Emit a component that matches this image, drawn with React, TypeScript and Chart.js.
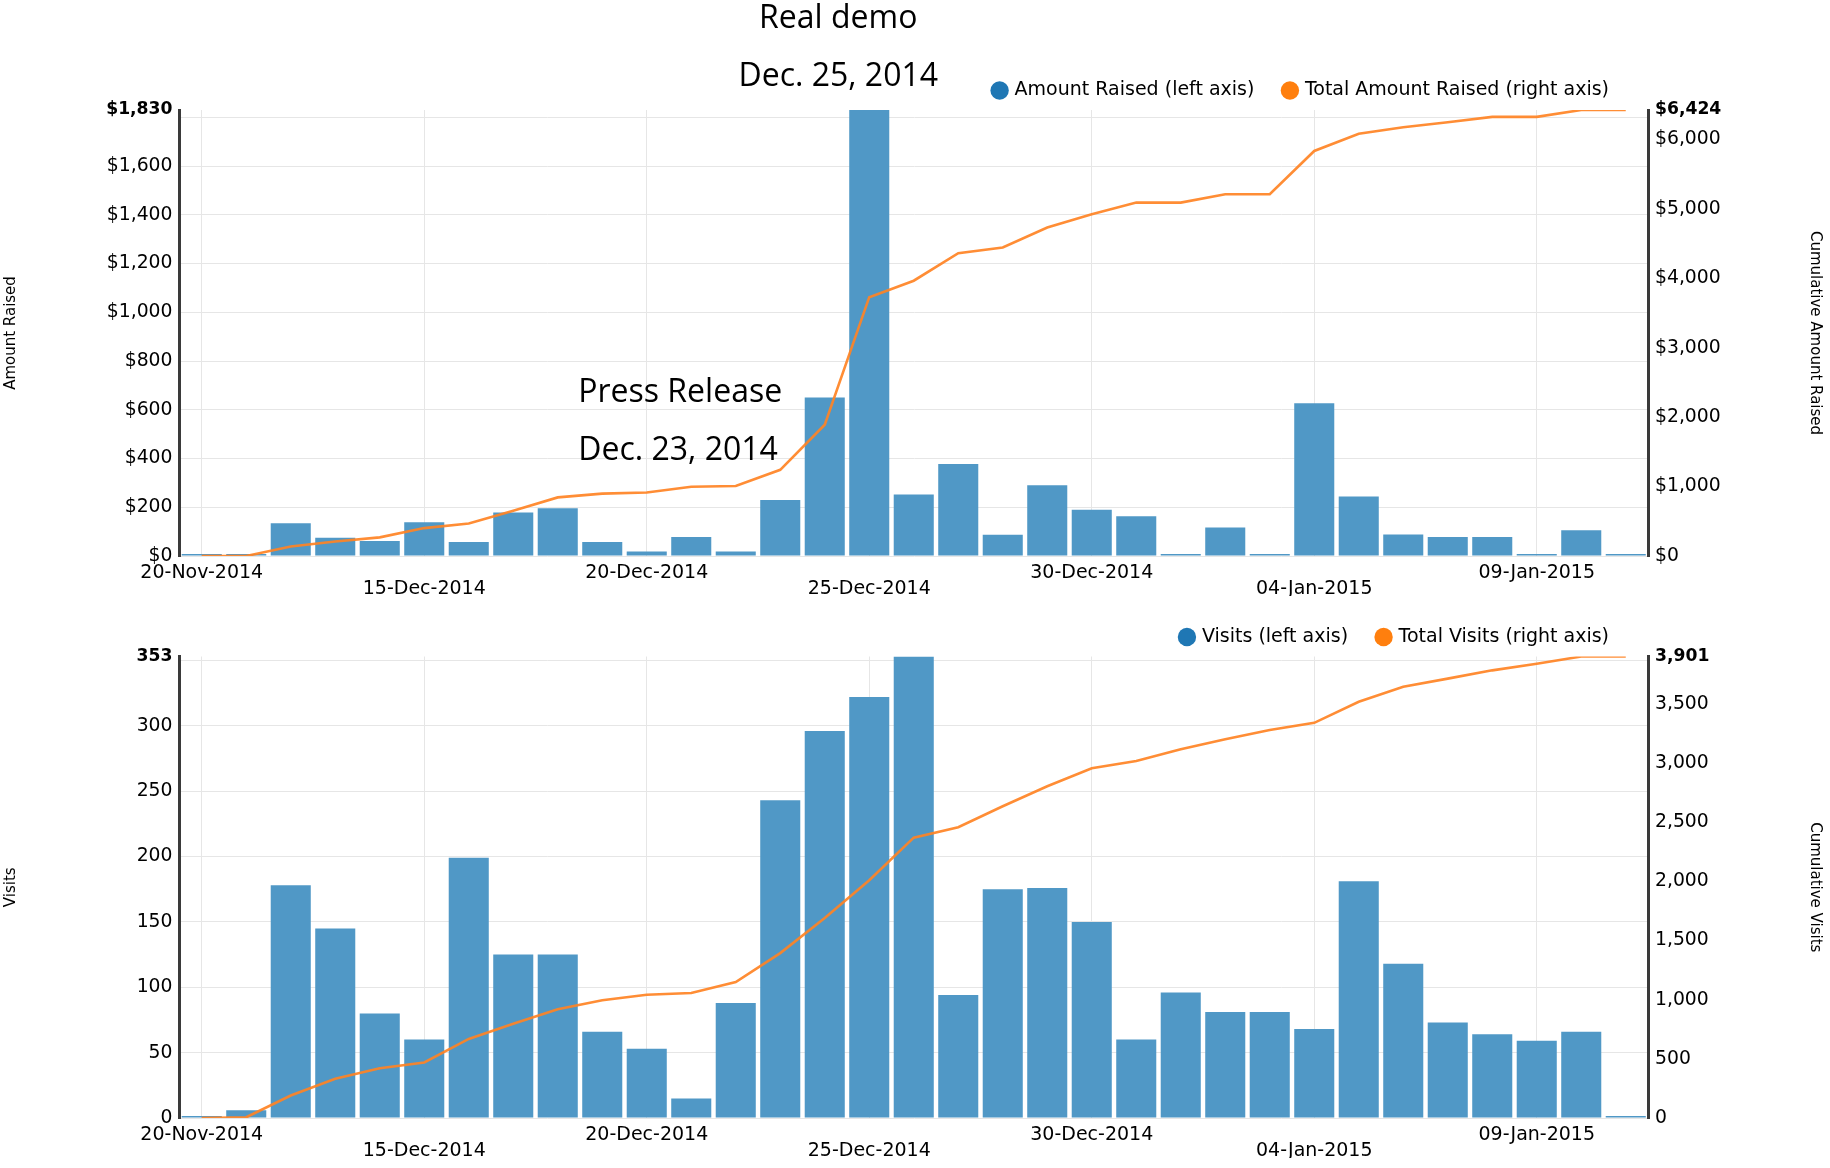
import React, { useEffect, useRef } from 'react';
import { Chart, registerables } from 'chart.js';

Chart.register(...registerables);

// ---------- data ----------
const dates = [
  '20-Nov-2014', '11-Dec-2014', '12-Dec-2014', '13-Dec-2014', '14-Dec-2014',
  '15-Dec-2014', '16-Dec-2014', '17-Dec-2014', '18-Dec-2014', '19-Dec-2014',
  '20-Dec-2014', '21-Dec-2014', '22-Dec-2014', '23-Dec-2014', '24-Dec-2014',
  '25-Dec-2014', '26-Dec-2014', '27-Dec-2014', '28-Dec-2014', '29-Dec-2014',
  '30-Dec-2014', '31-Dec-2014', '01-Jan-2015', '02-Jan-2015', '03-Jan-2015',
  '04-Jan-2015', '05-Jan-2015', '06-Jan-2015', '07-Jan-2015', '08-Jan-2015',
  '09-Jan-2015', '10-Jan-2015', '11-Jan-2015',
];

const amountRaised = [
  0, 0, 134, 75, 62, 138, 57, 178, 196, 57, 18, 78, 18, 230, 650, 1830, 252,
  377, 87, 290, 190, 163, 0, 117, 0, 627, 244, 88, 78, 78, 0, 106, 0,
];
const totalAmountRaised = [
  0, 0, 138, 210, 268, 402, 469, 651, 844, 899, 915, 998, 1009, 1241, 1891,
  3728, 3965, 4362, 4444, 4731, 4924, 5090, 5090, 5211, 5211, 5834, 6082,
  6176, 6247, 6325, 6325, 6424, 6424,
];

const visits = [
  0, 6, 178, 145, 80, 60, 199, 125, 125, 66, 53, 15, 88, 243, 296, 322, 353,
  94, 175, 176, 150, 60, 96, 81, 81, 68, 181, 118, 73, 64, 59, 66, 0,
];
const totalVisits = [
  0, 6, 190, 331, 420, 469, 668, 797, 919, 996, 1042, 1057, 1149, 1394, 1690,
  2010, 2370, 2458, 2635, 2804, 2957, 3018, 3117, 3202, 3279, 3340, 3518,
  3646, 3714, 3784, 3840, 3901, 3901,
];

const amountTicks = [0, 200, 400, 600, 800, 1000, 1200, 1400, 1600, 1800, 1830];
const totalAmountTicks = [0, 1000, 2000, 3000, 4000, 5000, 6000, 6424];
const visitsTicks = [0, 50, 100, 150, 200, 250, 300, 350, 353];
const totalVisitsTicks = [0, 500, 1000, 1500, 2000, 2500, 3000, 3500, 3901];

// ---------- styles ----------
const FONT = '"DejaVu Sans", sans-serif';
const GRID = '#e6e6e6';
const NONE = 'rgba(0,0,0,0)';
const BAR_FILL = 'rgb(80,152,198)';
const LINE_COLOR = 'rgba(255,131,36,0.92)';
const LEGEND_COLORS = ['#1f77b4', '#ff7f0e'];
const LEGEND_END = 1609;

const legendShift = {
  id: 'legendShift',
  afterLayout(chart: any) {
    const l = chart.legend;
    if (!l) return;
    const pad = l.options.labels.padding;
    const shift = LEGEND_END + pad - l.right;
    l.left += shift;
    l.right += shift;
  },
};

const annotations = {
  id: 'annotations',
  afterDraw(chart: any) {
    const x = chart.scales.x;
    const ctx = chart.ctx;
    ctx.save();
    ctx.fillStyle = '#000';
    ctx.font = '32px "Open Sans", sans-serif';
    ctx.textBaseline = 'alphabetic';
    ctx.textAlign = 'center';
    const demoX = x.getPixelForValue(15) - 31;
    ctx.fillText('Real demo', demoX, 28);
    ctx.fillText('Dec. 25, 2014', demoX, 86);
    ctx.textAlign = 'left';
    const prX = x.getPixelForValue(13) - 202;
    ctx.fillText('Press Release', prX, 402);
    ctx.fillText('Dec. 23, 2014', prX, 460);
    ctx.restore();
  },
};

type Opts = {
  bars: number[];
  line: number[];
  barLabel: string;
  lineLabel: string;
  leftTicks: number[];
  rightTicks: number[];
  leftHidden: number;
  leftTitle: string;
  rightTitle: string;
  money: boolean;
  padTop: number;
  padBottom: number;
  plugins: any[];
};

function buildConfig(o: Opts): any {
  const leftMax = o.leftTicks[o.leftTicks.length - 1];
  const rightMax = o.rightTicks[o.rightTicks.length - 1];
  const fmt = (v: number) => (o.money ? '$' : '') + Number(v).toLocaleString('en-US');
  const tickFont = (max: number) => (ctx: any) =>
    ctx.tick && ctx.tick.value === max
      ? { family: FONT, size: 17.2, weight: 'bold' }
      : { family: FONT, size: 18.8, weight: 'normal' };

  return {
    type: 'bar',
    data: {
      labels: dates,
      datasets: [
        {
          type: 'bar',
          label: o.barLabel,
          data: o.bars,
          yAxisID: 'y',
          backgroundColor: BAR_FILL,
          borderWidth: 0,
          barPercentage: 0.9,
          categoryPercentage: 1.0,
          minBarLength: 2,
          order: 1,
        },
        {
          type: 'line',
          label: o.lineLabel,
          data: o.line,
          yAxisID: 'y1',
          borderColor: LINE_COLOR,
          backgroundColor: LINE_COLOR,
          borderWidth: 2.6,
          pointRadius: 0,
          tension: 0,
          order: 0,
        },
      ],
    },
    options: {
      responsive: false,
      animation: false,
      events: [],
      layout: { padding: { top: o.padTop, bottom: o.padBottom, left: 0, right: 0 } },
      plugins: {
        tooltip: { enabled: false },
        legend: {
          display: true,
          position: 'top',
          align: 'end',
          labels: {
            usePointStyle: true,
            pointStyle: 'circle',
            boxWidth: 11,
            boxHeight: 13,
            padding: 30,
            color: '#000',
            font: { family: FONT, size: 19 },
            sort: (a: any, b: any) => a.datasetIndex - b.datasetIndex,
            generateLabels: (chart: any) =>
              (Chart.defaults.plugins.legend.labels as any)
                .generateLabels(chart)
                .map((l: any) => ({
                  ...l,
                  fillStyle: LEGEND_COLORS[l.datasetIndex],
                  strokeStyle: LEGEND_COLORS[l.datasetIndex],
                  lineWidth: 0,
                })),
          },
        },
      },
      scales: {
        x: {
          type: 'category',
          offset: true,
          border: { display: false },
          grid: {
            offset: false,
            drawTicks: false,
            lineWidth: 1,
            color: (ctx: any) => (ctx.index % 5 === 0 ? GRID : NONE),
          },
          ticks: {
            autoSkip: false,
            maxRotation: 0,
            minRotation: 0,
            padding: 8.75,
            color: '#000',
            font: { family: FONT, size: 19, lineHeight: 0.87 },
            callback: (_v: any, i: number) =>
              i % 5 === 0 ? ((i / 5) % 2 === 0 ? dates[i] : ['', dates[i]]) : '',
          },
          afterFit: (s: any) => {
            s.height = 40;
          },
        },
        y: {
          type: 'linear',
          position: 'left',
          min: 0,
          max: leftMax,
          afterBuildTicks: (s: any) => {
            s.ticks = o.leftTicks.map((v) => ({ value: v }));
          },
          border: { display: true, color: '#3a3a3a', width: 3 },
          grid: {
            drawTicks: false,
            lineWidth: 1,
            color: (ctx: any) => (ctx.tick && ctx.tick.value === leftMax ? NONE : GRID),
          },
          ticks: {
            padding: 7,
            color: '#000',
            font: tickFont(leftMax),
            callback: (v: any) => (v === o.leftHidden ? '' : fmt(v)),
          },
          title: {
            display: true,
            text: o.leftTitle,
            color: '#000',
            font: { family: FONT, size: 15 },
            padding: { top: 2.6, bottom: 0 },
          },
          afterFit: (s: any) => {
            s.width = 179.5;
          },
        },
        y1: {
          type: 'linear',
          position: 'right',
          min: 0,
          max: rightMax,
          afterBuildTicks: (s: any) => {
            s.ticks = o.rightTicks.map((v) => ({ value: v }));
          },
          border: { display: true, color: '#3a3a3a', width: 3 },
          grid: { drawOnChartArea: false, drawTicks: false },
          ticks: {
            padding: 7,
            color: '#000',
            font: tickFont(rightMax),
            callback: (v: any) => fmt(v),
          },
          title: {
            display: true,
            text: o.rightTitle,
            color: '#000',
            font: { family: FONT, size: 15 },
            padding: { top: 6, bottom: 0 },
          },
          afterFit: (s: any) => {
            s.width = 182;
          },
        },
      },
    },
    plugins: o.plugins,
  };
}

export default function App() {
  const topRef = useRef<HTMLCanvasElement>(null);
  const botRef = useRef<HTMLCanvasElement>(null);

  useEffect(() => {
    const c1 = new Chart(
      topRef.current as HTMLCanvasElement,
      buildConfig({
        bars: amountRaised,
        line: totalAmountRaised,
        barLabel: 'Amount Raised (left axis)',
        lineLabel: 'Total Amount Raised (right axis)',
        leftTicks: amountTicks,
        rightTicks: totalAmountTicks,
        leftHidden: 1800,
        leftTitle: 'Amount Raised',
        rightTitle: 'Cumulative Amount Raised',
        money: true,
        padTop: 51,
        padBottom: 14,
        plugins: [legendShift, annotations],
      })
    );
    const c2 = new Chart(
      botRef.current as HTMLCanvasElement,
      buildConfig({
        bars: visits,
        line: totalVisits,
        barLabel: 'Visits (left axis)',
        lineLabel: 'Total Visits (right axis)',
        leftTicks: visitsTicks,
        rightTicks: totalVisitsTicks,
        leftHidden: 350,
        leftTitle: 'Visits',
        rightTitle: 'Cumulative Visits',
        money: false,
        padTop: 1.5,
        padBottom: 10,
        plugins: [legendShift],
      })
    );
    return () => {
      c1.destroy();
      c2.destroy();
    };
  }, []);

  return (
    <div style={{ position: 'absolute', left: 0, top: 0, width: 1830, height: 1168, background: '#fff' }}>
      <canvas ref={topRef} width={1830} height={610} style={{ position: 'absolute', left: 0, top: 0 }} />
      <canvas ref={botRef} width={1830} height={572} style={{ position: 'absolute', left: 0, top: 596 }} />
    </div>
  );
}
